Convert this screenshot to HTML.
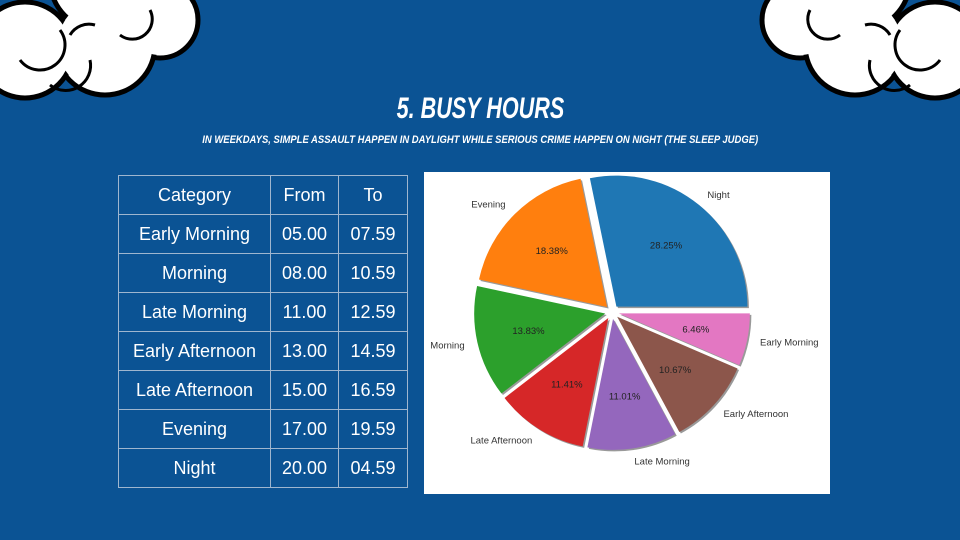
<!DOCTYPE html>
<html><head><meta charset="utf-8"><style>
body{margin:0;width:960px;height:540px;overflow:hidden;background:#0b5394;font-family:"Liberation Sans",sans-serif;position:relative}
.t{position:absolute;left:0;width:960px;text-align:center;color:#fff;font-family:"Liberation Sans",sans-serif;font-weight:bold;font-style:italic}
.t span{display:inline-block}
table{position:absolute;left:118px;top:175px;border-collapse:collapse;color:#fff;font-size:18px}
td{border:1px solid #9fb6cf;height:38px;text-align:center;padding:0}
</style></head><body>
<svg style="position:absolute;left:0;top:0" width="210" height="110">
<g fill="#fff" stroke="#000" stroke-width="5">
<circle cx="160" cy="20" r="38"/><circle cx="105" cy="45" r="50"/><circle cx="25" cy="50" r="48"/><circle cx="100" cy="-20" r="50"/>
</g>
<g fill="#fff"><circle cx="160" cy="20" r="35"/><circle cx="105" cy="45" r="47"/><circle cx="25" cy="50" r="45"/><circle cx="100" cy="-20" r="47"/></g>
<g fill="none" stroke="#000" stroke-width="3"><path d="M60 30 A22 22 0 0 1 20 60"/><path d="M90 60 A25 25 0 0 1 50 85"/><path d="M95 25 A22 22 0 0 0 70 35"/><path d="M150 10 A20 20 0 0 1 120 35"/></g>
</svg>
<svg style="position:absolute;left:750px;top:0" width="210" height="110">
<g transform="translate(210,0) scale(-1,1)">
<g fill="#fff" stroke="#000" stroke-width="5">
<circle cx="160" cy="20" r="38"/><circle cx="105" cy="45" r="50"/><circle cx="25" cy="50" r="48"/><circle cx="100" cy="-20" r="50"/>
</g>
<g fill="#fff"><circle cx="160" cy="20" r="35"/><circle cx="105" cy="45" r="47"/><circle cx="25" cy="50" r="45"/><circle cx="100" cy="-20" r="47"/></g>
<g fill="none" stroke="#000" stroke-width="3"><path d="M60 30 A22 22 0 0 1 20 60"/><path d="M90 60 A25 25 0 0 1 50 85"/><path d="M95 25 A22 22 0 0 0 70 35"/><path d="M150 10 A20 20 0 0 1 120 35"/></g>
</g></svg>
<div class="t" style="top:92px;font-size:30px"><span style="transform:scaleX(0.72)">5. BUSY HOURS</span></div>
<div class="t" style="top:134px;font-size:11px"><span style="transform:scaleX(0.86)">IN WEEKDAYS, SIMPLE ASSAULT HAPPEN IN DAYLIGHT WHILE SERIOUS CRIME HAPPEN ON NIGHT (THE SLEEP JUDGE)</span></div>
<table>
<tr><td style="width:151px">Category</td><td style="width:67px">From</td><td style="width:68px">To</td></tr>
<tr><td>Early Morning</td><td>05.00</td><td>07.59</td></tr>
<tr><td>Morning</td><td>08.00</td><td>10.59</td></tr>
<tr><td>Late Morning</td><td>11.00</td><td>12.59</td></tr>
<tr><td>Early Afternoon</td><td>13.00</td><td>14.59</td></tr>
<tr><td>Late Afternoon</td><td>15.00</td><td>16.59</td></tr>
<tr><td>Evening</td><td>17.00</td><td>19.59</td></tr>
<tr><td>Night</td><td>20.00</td><td>04.59</td></tr>
</table>
<svg id="pie" style="position:absolute;left:424px;top:172px;background:#fff" width="406" height="322"></svg>
<script>
const categories=["Night","Evening","Morning","Late Afternoon","Late Morning","Early Afternoon","Early Morning"];
const values=[28.25,18.38,13.83,11.41,11.01,10.67,6.46];
const colors=["#1f77b4","#ff7f0e","#2ca02c","#d62728","#9467bd","#8c564b","#e377c2"];
const svg=document.getElementById('pie');const NS="http://www.w3.org/2000/svg";
const cx=188,cy=140,r=131,ex=7;
const total=values.reduce((a,b)=>a+b,0);
let a0=0;
values.forEach((v,i)=>{
 const a1=a0+v/total*2*Math.PI, am=(a0+a1)/2;
 const ox=cx+ex*Math.cos(am), oy=cy-ex*Math.sin(am);
 const p=(a)=>[ox+r*Math.cos(a),oy-r*Math.sin(a)];
 const [x0,y0]=p(a0),[x1,y1]=p(a1);
 const large=(a1-a0)>Math.PI?1:0;
 const d=`M${ox},${oy}L${x0},${y0}A${r},${r} 0 ${large} 0 ${x1},${y1}Z`;
 const sh=document.createElementNS(NS,'path');sh.setAttribute('d',d);sh.setAttribute('fill','#999');sh.setAttribute('transform','translate(1.5,1.5)');
 
 
 svg.appendChild(sh);
 const s=document.createElementNS(NS,'path');s.setAttribute('d',d);s.setAttribute('fill',colors[i]);
 
 
 svg.appendChild(s);
 const t=document.createElementNS(NS,'text');
 t.setAttribute('x',ox+0.6*r*Math.cos(am));t.setAttribute('y',oy-0.6*r*Math.sin(am)+3);
 t.setAttribute('text-anchor','middle');t.setAttribute('font-size','9.5');t.setAttribute('fill','#222');
 t.textContent=v.toFixed(2)+'%';
 
 
 svg.appendChild(t);
 const l=document.createElementNS(NS,'text');
 const c=Math.cos(am);
 l.setAttribute('x',ox+1.1*r*c);l.setAttribute('y',oy-1.1*r*Math.sin(am)+3);
 l.setAttribute('text-anchor',c>0.01?'start':(c<-0.01?'end':'middle'));l.setAttribute('font-size','9.5');l.setAttribute('fill','#333');
 l.textContent=categories[i];
 
 
 svg.appendChild(l);
 a0=a1;
});
</script>
</body></html>
